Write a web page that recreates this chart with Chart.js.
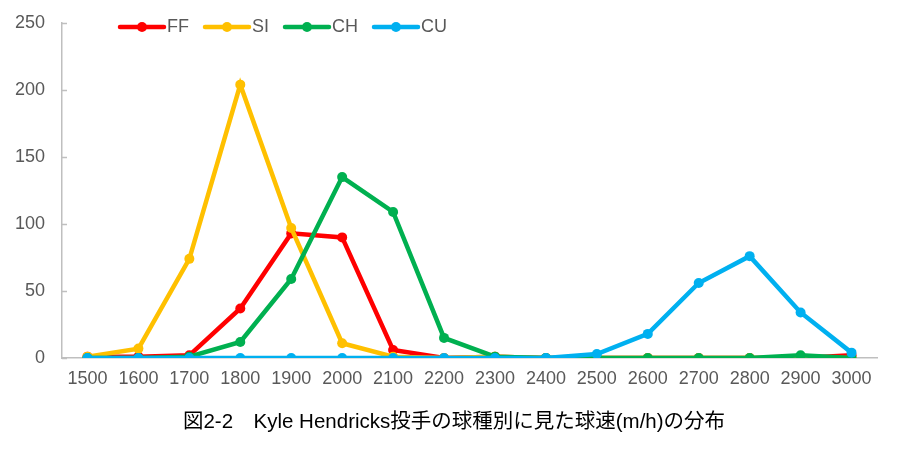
<!DOCTYPE html>
<html>
<head>
<meta charset="utf-8">
<script src="https://cdn.jsdelivr.net/npm/chart.js@4.4.0/dist/chart.umd.min.js"></script>
<style>
html,body{margin:0;padding:0;background:#fff;}
#wrap{width:902px;height:450px;position:relative;}
</style>
</head>
<body>
<div id="wrap"><canvas id="c" width="902" height="450"></canvas></div>
<script>
const categories = ['1500','1600','1700','1800','1900','2000','2100','2200','2300','2400','2500','2600','2700','2800','2900','3000'];
const seriesNames = ['FF','SI','CH','CU'];
const ffValues = [1, 1, 2, 37, 93, 90, 6, 0, 1, 0, 0, 0, 0, 0, 0, 2];
const siValues = [1, 7, 74, 204, 97, 11, 1, 0, 1, 0, 0, 0, 0, 0, 0, 0];
const chValues = [0, 0, 1, 12, 59, 135, 109, 15, 1, 0, 0, 0, 0, 0, 2, 0];
const cuValues = [0, 0, 0, 0, 0, 0, 0, 0, 0, 0, 3, 18, 56, 76, 34, 4];
const yTicks = [0, 50, 100, 150, 200, 250];
const titleText = '図2-2　Kyle Hendricks投手の球種別に見た球速(m/h)の分布';

const colors = ['#FF0000', '#FFC000', '#00B050', '#00B0F0'];
const allValues = [ffValues, siValues, chValues, cuValues];
const FONT = '"Liberation Sans", Arial, sans-serif';

const datasets = seriesNames.map((name, i) => ({
  label: name,
  data: allValues[i],
  borderColor: colors[i],
  backgroundColor: colors[i],
  borderWidth: 4.5,
  pointRadius: 5,
  pointHoverRadius: 5,
  pointBorderWidth: 0,
  tension: 0,
  order: seriesNames.length - i
}));

const customLegendTitle = {
  id: 'customLegendTitle',
  afterDraw(chart) {
    const ctx = chart.ctx;
    ctx.save();
    const ys = chart.scales.y;
    const area = chart.chartArea;
    ctx.strokeStyle = '#BFBFBF';
    ctx.lineWidth = 1.5;
    yTicks.forEach(v => {
      const py = Math.round(ys.getPixelForValue(v)) + 0.5;
      ctx.beginPath();
      ctx.moveTo(area.left, py);
      ctx.lineTo(area.left + 5, py);
      ctx.stroke();
    });
    const legendX = [120, 205, 285, 374];
    const y = 27;
    chart.data.datasets.forEach((ds, i) => {
      const x0 = legendX[i];
      ctx.strokeStyle = ds.borderColor;
      ctx.lineWidth = 4.5;
      ctx.lineCap = 'round';
      ctx.beginPath();
      ctx.moveTo(x0, y);
      ctx.lineTo(x0 + 44, y);
      ctx.stroke();
      ctx.fillStyle = ds.borderColor;
      ctx.beginPath();
      ctx.arc(x0 + 22, y, 5, 0, Math.PI * 2);
      ctx.fill();
      ctx.fillStyle = '#595959';
      ctx.font = '18px ' + FONT;
      ctx.textAlign = 'left';
      ctx.textBaseline = 'middle';
      ctx.fillText(ds.label, x0 + 47, y);
    });
    ctx.fillStyle = '#000000';
    ctx.font = '20.5px "Liberation Sans", "Noto Sans CJK JP", sans-serif';
    ctx.textAlign = 'center';
    ctx.textBaseline = 'middle';
    ctx.fillText(titleText, 454, 422);
    ctx.restore();
  }
};

new Chart(document.getElementById('c'), {
  type: 'line',
  data: { labels: categories, datasets: datasets },
  options: {
    responsive: false,
    animation: false,
    events: [],
    layout: { padding: { top: 23, right: 25, bottom: 0, left: 0 } },
    plugins: {
      legend: { display: false },
      title: { display: false },
      tooltip: { enabled: false }
    },
    scales: {
      x: {
        offset: true,
        grid: { display: false, drawTicks: false },
        border: { display: true, color: '#BFBFBF', width: 1.5 },
        ticks: { color: '#595959', font: { family: FONT, size: 18 }, padding: 10, maxRotation: 0, autoSkip: false },
        afterFit(scale) { scale.height = 92; scale.paddingLeft = 0; scale.paddingRight = 0; }
      },
      y: {
        min: 0,
        max: 250,
        afterBuildTicks(scale) { scale.ticks = yTicks.map(v => ({ value: v })); },
        grid: { display: false, drawTicks: false },
        border: { display: true, color: '#BFBFBF', width: 1.5 },
        ticks: { color: '#595959', font: { family: FONT, size: 18 }, padding: 17 },
        afterFit(scale) { scale.width = 62; scale.paddingTop = 0; scale.paddingBottom = 0; }
      }
    }
  },
  plugins: [customLegendTitle]
});
</script>
</body>
</html>
